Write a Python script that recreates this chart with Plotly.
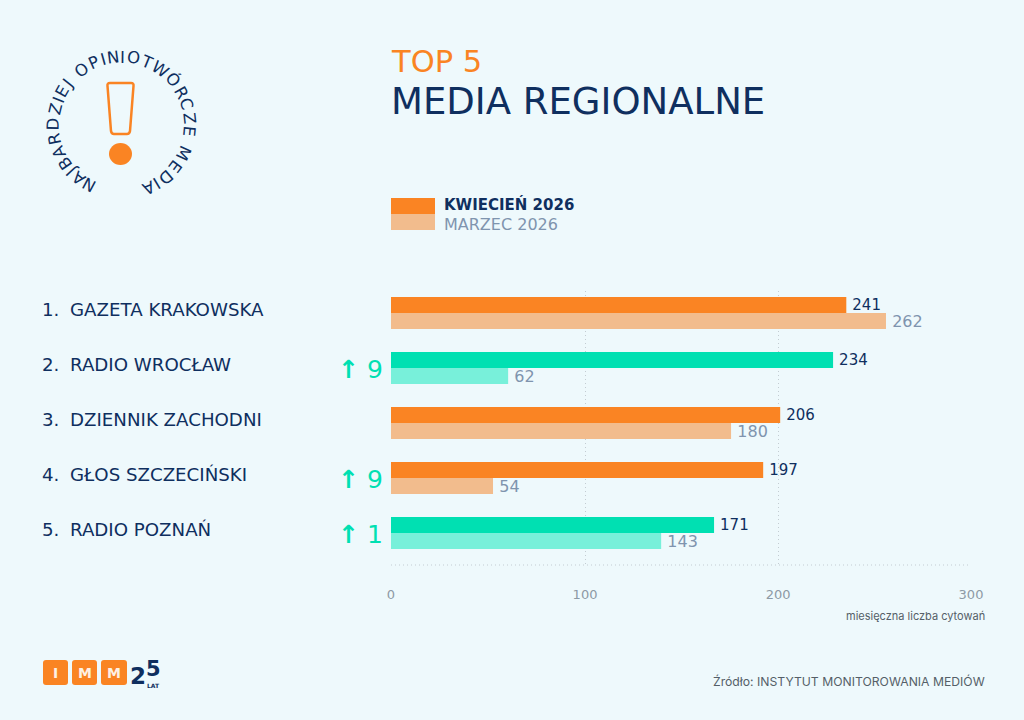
import math
import plotly.graph_objects as go

W, H = 1024, 720

ranks = ['1.', '2.', '3.', '4.', '5.']
media = ['GAZETA KRAKOWSKA', 'RADIO WROCŁAW', 'DZIENNIK ZACHODNI', 'GŁOS SZCZECIŃSKI', 'RADIO POZNAŃ']
kwiecien = [241, 234, 206, 197, 171]
marzec = [262, 62, 180, 54, 143]
awans = [None, 9, None, 9, 1]
typ = ['gazeta', 'radio', 'gazeta', 'gazeta', 'radio']
# w oryginale slupki sa nieco krotsze niz wynika z podzialki, stad przesuniete ticki
tick_pos = [0, 102.7, 204.9, 307]
tick_labels = ['0', '100', '200', '300']

BG = '#EEF9FC'
ORANGE = '#FA8423'
ORANGE_L = '#F2BC8D'
GREEN = '#00E0B2'
GREEN_L = '#78F0DA'
NAVY = '#0F2F5F'
SLATE = '#7F94AE'
GREY = '#8D9AA5'
FONT = 'DejaVu Sans'
FONT2 = 'Inter'


def px(x):
    return x / W


def py(y):
    return 1 - y / H


def text(x, y, s, size, color, anchor='left', angle=0, family=FONT):
    fig.add_annotation(x=px(x), y=py(y), xref='paper', yref='paper', text=s, showarrow=False,
                       xanchor=anchor, yanchor='middle', textangle=angle, borderpad=0, borderwidth=0,
                       font=dict(family=family, size=size, color=color))


def rect(x0, y0, x1, y1, color):
    fig.add_shape(type='rect', xref='paper', yref='paper', x0=px(x0), x1=px(x1), y0=py(y0), y1=py(y1),
                  fillcolor=color, line_width=0)


def round_box(x0, y0, x1, y1, r, color):
    p = [('M', x0 + r, y0), ('L', x1 - r, y0), ('Q', x1, y0), ('', x1, y0 + r), ('L', x1, y1 - r),
         ('Q', x1, y1), ('', x1 - r, y1), ('L', x0 + r, y1), ('Q', x0, y1), ('', x0, y1 - r),
         ('L', x0, y0 + r), ('Q', x0, y0), ('', x0 + r, y0)]
    fig.add_shape(type='path', xref='paper', yref='paper',
                  path=' '.join(f'{c}{px(x)},{py(y)}' for c, x, y in p) + ' Z',
                  fillcolor=color, line_width=0)


fig = go.Figure()
yy = list(range(len(media)))
fig.add_trace(go.Bar(y=yy, x=kwiecien, orientation='h', name='KWIECIEŃ 2026',
                     marker=dict(color=[ORANGE if t == 'gazeta' else GREEN for t in typ], line_width=0),
                     texttemplate='\u2009%{x}', textposition='outside', cliponaxis=False, constraintext='none',
                     textfont=dict(family=FONT, size=15, color=NAVY)))
fig.add_trace(go.Bar(y=yy, x=marzec, orientation='h', name='MARZEC 2026',
                     marker=dict(color=[ORANGE_L if t == 'gazeta' else GREEN_L for t in typ], line_width=0),
                     texttemplate='\u2009%{x}', textposition='outside', cliponaxis=False, constraintext='none',
                     textfont=dict(family=FONT, size=16, color=SLATE)))

# wiersze z nazwami
for i in yy:
    for x, s in ((40, ranks[i]), (68, media[i])):
        fig.add_annotation(x=px(x), y=i, xref='paper', yref='y', yshift=4, text=s, showarrow=False,
                           xanchor='left', font=dict(family=FONT, size=18.2, color=NAVY))
    if awans[i] is not None:
        fig.add_annotation(x=px(385), y=i, xref='paper', yref='y', yshift=-1, text=f'<b>↑</b> {awans[i]}',
                           showarrow=False, xanchor='right',
                           font=dict(family=FONT, size=25, color=GREEN))

# dolna os kropkowana
fig.add_shape(type='line', xref='x', yref='y domain', x0=0, x1=tick_pos[-1], y0=0, y1=0,
              line=dict(color='#C3CCD2', width=1, dash='1px,3px'))

# naglowek i legenda
text(391, 61, 'TOP 5', 30.5, ORANGE)
text(391, 102, 'MEDIA REGIONALNE', 37, NAVY)
rect(391, 198, 435, 214, ORANGE)
rect(391, 214, 435, 230, ORANGE_L)
text(444, 204, '<b>KWIECIEŃ 2026</b>', 15, NAVY)
text(444, 224, 'MARZEC 2026', 16, SLATE)

# napisy na dole
text(985, 616, 'miesięczna liczba cytowań', 11, '#555F68', 'right', family=FONT2)
text(985, 681, 'Źródło: INSTYTUT MONITOROWANIA MEDIÓW', 12.2, '#555F68', 'right', family=FONT2)

# tekst po okregu
motto = 'NAJBARDZIEJ OPINIOTWÓRCZE MEDIA'
cx, cy, r = 121.5, 125, 68
widths = []
for c in motto:
    if c in 'IJ':
        widths.append(0.42)
    elif c == ' ':
        widths.append(0.6)
    elif c in 'OÓWMD':
        widths.append(1.2)
    else:
        widths.append(1.0)
start, end = -152, 157
step = (end - start) / (sum(widths) - widths[0] / 2 - widths[-1] / 2)
pos = start - widths[0] / 2 * step
for c, w in zip(motto, widths):
    a = pos + w / 2 * step
    pos += w * step
    if c != ' ':
        t = math.radians(a)
        text(cx + r * math.sin(t), cy - r * math.cos(t), c, 16.5, NAVY, 'center', a)

# wykrzyknik
fig.add_shape(type='path', xref='paper', yref='paper',
              path=' '.join(f'{c}{px(x)},{py(y)}' for c, x, y in
                            [('M', 110, 83), ('L', 131, 83), ('Q', 134, 83), ('', 133.5, 86), ('L', 130, 131),
                             ('Q', 129.5, 134), ('', 127, 134), ('L', 114, 134), ('Q', 111.5, 134), ('', 111, 131),
                             ('L', 107.5, 86), ('Q', 107, 83), ('', 110, 83)]) + ' Z',
              line=dict(color=ORANGE, width=2.5), fillcolor='rgba(0,0,0,0)')
fig.add_shape(type='circle', xref='paper', yref='paper', x0=px(109), x1=px(132), y0=py(143), y1=py(165),
              fillcolor=ORANGE, line_width=0)

# logo
for x0, x1, s in ((43, 68, 'I'), (72, 97, 'M'), (101, 127, 'M')):
    round_box(x0, 660, x1, 685, 3, ORANGE)
    text((x0 + x1) / 2, 673, f'<b>{s}</b>', 14, '#FDF1E4', 'center')
text(138, 676, '<b>2</b>', 23, NAVY, 'center')
text(153, 669, '<b>5</b>', 21, NAVY, 'center')
text(153, 685, '<b>LAT</b>', 6, NAVY, 'center')

fig.update_layout(
    width=W, height=H, autosize=False,
    margin=dict(l=0, r=0, t=0, b=0, pad=0, autoexpand=False),
    paper_bgcolor=BG, plot_bgcolor=BG,
    barmode='group', bargap=0.418, bargroupgap=0,
    showlegend=False,
    xaxis=dict(domain=[px(391), px(971)], range=[0, tick_pos[-1]], tickvals=tick_pos, ticktext=tick_labels,
               showgrid=True, gridcolor='#C3CCD2', griddash='1px,3px', gridwidth=1, zeroline=False, showline=False,
               ticklabelstandoff=20, tickfont=dict(family=FONT, size=13, color=GREY)),
    yaxis=dict(domain=[py(565), py(291)], range=[4.58, -0.4], showgrid=False, zeroline=False,
               showticklabels=False, ticks=''),
)

fig.write_html('out.html', config={'displayModeBar': False}, post_script="document.body.style.margin='0';")
